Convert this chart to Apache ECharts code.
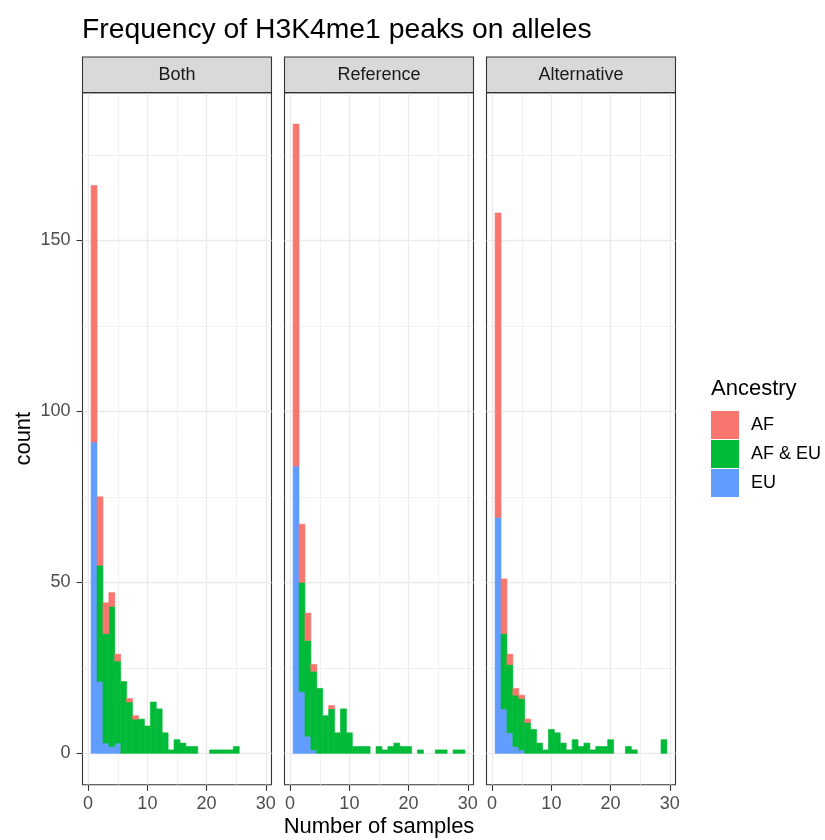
<!DOCTYPE html>
<html>
<head>
<meta charset="utf-8">
<script src="https://cdn.jsdelivr.net/npm/echarts@6/dist/echarts.min.js"></script>
<style>
  html, body { margin: 0; padding: 0; background: #ffffff; }
  #chart { width: 825px; height: 840px; }
</style>
</head>
<body>
<div id="chart"></div>
<script>
// Histogram bins: number of samples carrying a peak (bin width 1)
const samples = [1,2,3,4,5,6,7,8,9,10,11,12,13,14,15,16,17,18,19,20,21,22,23,24,25,26,27,28,29];

const panels = ['Both', 'Reference', 'Alternative'];
const ancestry = ['AF', 'AF & EU', 'EU'];
const ancestryColors = ['#F8766D', '#00BA38', '#619CFF'];

// Counts per bin, one array per panel and ancestry group
const bothAF    = [75,20,9,4,2,0,1,1,0,0,0,0,0,0,0,0,0,0,0,0,0,0,0,0,0,0,0,0,0];
const bothAFEU  = [0,34,32,41,24,21,15,10,10,8,15,13,6,1,4,3,2,2,0,0,1,1,1,1,2,0,0,0,0];
const bothEU    = [91,21,3,2,3,0,0,0,0,0,0,0,0,0,0,0,0,0,0,0,0,0,0,0,0,0,0,0,0];

const refAF     = [100,17,8,2,0,0,1,0,0,0,0,0,0,0,0,0,0,0,0,0,0,0,0,0,0,0,0,0,0];
const refAFEU   = [0,32,28,23,19,11,13,6,13,6,2,2,2,0,2,1,2,3,2,2,0,1,0,0,1,1,0,1,1];
const refEU     = [84,18,5,1,0,0,0,0,0,0,0,0,0,0,0,0,0,0,0,0,0,0,0,0,0,0,0,0,0];

const altAF     = [89,16,3,2,1,1,0,0,0,0,0,0,0,0,0,0,0,0,0,0,0,0,0,0,0,0,0,0,0];
const altAFEU   = [0,22,20,15,15,9,7,3,1,7,6,3,1,4,2,3,1,2,2,4,0,0,2,1,0,0,0,0,4];
const altEU     = [69,13,6,2,1,0,0,0,0,0,0,0,0,0,0,0,0,0,0,0,0,0,0,0,0,0,0,0,0];

// Tick marks / grid lines
const xMajorTicks = [0, 10, 20, 30];
const xMinorTicks = [5, 15, 25];
const yMajorTicks = [0, 50, 100, 150];
const yMinorTicks = [25, 75, 125, 175];

// panel -> [AF, AF & EU, EU]
const panelData = [
  [bothAF, bothAFEU, bothEU],
  [refAF, refAFEU, refEU],
  [altAF, altAFEU, altEU]
];

// Layout
const FONT = '"Liberation Sans", Arial, Helvetica, sans-serif';
const PANEL_LEFT = [82.5, 284.5, 486.5];
const PANEL_W = 189;
const STRIP_TOP = 57;
const PANEL_TOP = 92.6;
const PANEL_H = 692.2;

// Scale limits with 5% padding on each side
const binLo = samples[0] - 0.5, binHi = samples[samples.length - 1] + 0.5;
const xPad = (binHi - binLo) * 0.05;
const xMin = binLo - xPad, xMax = binHi + xPad;
let yTop = 0;
panelData.forEach(groups => {
  samples.forEach((s, i) => {
    yTop = Math.max(yTop, groups[0][i] + groups[1][i] + groups[2][i]);
  });
});
const yMin = -yTop * 0.05, yMax = yTop * 1.05;

const grids = [], xAxes = [], yAxes = [], series = [], graphics = [];

panels.forEach((name, p) => {
  grids.push({
    left: PANEL_LEFT[p], top: PANEL_TOP, width: PANEL_W, height: PANEL_H,
    show: true, backgroundColor: '#ffffff', borderColor: '#333333', borderWidth: 1.1
  });

  // major x axis (labels, ticks, major grid lines)
  xAxes.push({
    gridIndex: p, type: 'value', min: xMin, max: xMax, position: 'bottom',
    axisLine: { show: false, onZero: false },
    axisTick: { show: true, length: 6, customValues: xMajorTicks, lineStyle: { color: '#333333', width: 1.1 } },
    axisLabel: { show: true, customValues: xMajorTicks, color: '#4D4D4D', fontSize: 18, fontFamily: FONT, margin: 10 },
    splitLine: { show: true, lineStyle: { color: '#EBEBEB', width: 1.4 } }
  });
  // minor x grid lines
  xAxes.push({
    gridIndex: p, type: 'value', min: xMin, max: xMax, position: 'bottom',
    axisLine: { show: false, onZero: false },
    axisTick: { show: false, customValues: xMinorTicks },
    axisLabel: { show: false, customValues: xMinorTicks },
    splitLine: { show: true, lineStyle: { color: '#EBEBEB', width: 0.7 } }
  });

  yAxes.push({
    gridIndex: p, type: 'value', min: yMin, max: yMax, position: 'left',
    axisLine: { show: false, onZero: false },
    axisTick: { show: p === 0, length: 6, customValues: yMajorTicks, lineStyle: { color: '#333333', width: 1.1 } },
    axisLabel: { show: p === 0, customValues: yMajorTicks, color: '#4D4D4D', fontSize: 18, fontFamily: FONT, margin: 12 },
    splitLine: { show: true, lineStyle: { color: '#EBEBEB', width: 1.4 } }
  });
  yAxes.push({
    gridIndex: p, type: 'value', min: yMin, max: yMax, position: 'left',
    axisLine: { show: false, onZero: false },
    axisTick: { show: false, customValues: yMinorTicks },
    axisLabel: { show: false, customValues: yMinorTicks },
    splitLine: { show: true, lineStyle: { color: '#EBEBEB', width: 0.7 } }
  });

  // stacked bins: EU at the bottom, then AF & EU, then AF on top
  const groups = panelData[p];
  const base = samples.map(() => 0);
  [2, 1, 0].forEach(g => {
    const data = [];
    samples.forEach((s, i) => {
      const c = groups[g][i];
      if (c > 0) data.push([s, c, base[i]]);
      base[i] += c;
    });
    series.push({
      name: ancestry[g],
      type: 'custom',
      xAxisIndex: 2 * p,
      yAxisIndex: 2 * p,
      itemStyle: { color: ancestryColors[g] },
      z: 10,
      silent: true,
      renderItem: (params, api) => {
        const x = api.value(0), c = api.value(1), b = api.value(2);
        const p0 = api.coord([x - 0.5, b]);
        const p1 = api.coord([x + 0.5, b + c]);
        return {
          type: 'rect',
          shape: { x: p0[0], y: p1[1], width: p1[0] - p0[0], height: p0[1] - p1[1] },
          style: { fill: ancestryColors[g], stroke: ancestryColors[g], lineWidth: 0.6 }
        };
      },
      data: data
    });
  });

  // facet strip
  graphics.push({
    type: 'rect',
    shape: { x: PANEL_LEFT[p], y: STRIP_TOP, width: PANEL_W, height: PANEL_TOP - STRIP_TOP },
    style: { fill: '#D9D9D9', stroke: '#333333', lineWidth: 1.1 },
    z: 100
  });
  graphics.push({
    type: 'text',
    x: PANEL_LEFT[p] + PANEL_W / 2, y: (STRIP_TOP + PANEL_TOP) / 2,
    style: { text: name, fill: '#1A1A1A', font: '18px ' + FONT, textAlign: 'center', textVerticalAlign: 'middle' },
    z: 101
  });
});

// axis titles
graphics.push({
  type: 'text',
  x: (PANEL_LEFT[0] + PANEL_LEFT[2] + PANEL_W) / 2, y: 827,
  style: { text: 'Number of samples', fill: '#000000', font: '22px ' + FONT, textAlign: 'center', textVerticalAlign: 'middle' }
});
graphics.push({
  type: 'text',
  x: 24, y: PANEL_TOP + PANEL_H / 2,
  rotation: Math.PI / 2,
  style: { text: 'count', fill: '#000000', font: '22px ' + FONT, textAlign: 'center', textVerticalAlign: 'middle' }
});

const chart = echarts.init(document.getElementById('chart'), null, { renderer: 'canvas' });
chart.setOption({
  animation: false,
  backgroundColor: '#ffffff',
  textStyle: { fontFamily: FONT },
  title: [
    {
      text: 'Frequency of H3K4me1 peaks on alleles',
      left: 82, top: 16, padding: 0,
      textStyle: { fontSize: 28.3, fontWeight: 'normal', color: '#000000', fontFamily: FONT }
    },
    {
      text: 'Ancestry',
      left: 711, top: 378, padding: 0,
      textStyle: { fontSize: 22, fontWeight: 'normal', color: '#000000', fontFamily: FONT }
    }
  ],
  legend: {
    data: ancestry,
    orient: 'vertical',
    left: 711, top: 411, padding: 0,
    itemWidth: 28, itemHeight: 28, itemGap: 1,
    icon: 'rect',
    selectedMode: false,
    textStyle: { fontSize: 18, color: '#000000', fontFamily: FONT, padding: [0, 0, 0, 7] }
  },
  grid: grids,
  xAxis: xAxes,
  yAxis: yAxes,
  series: series,
  graphic: graphics
});
</script>
</body>
</html>
